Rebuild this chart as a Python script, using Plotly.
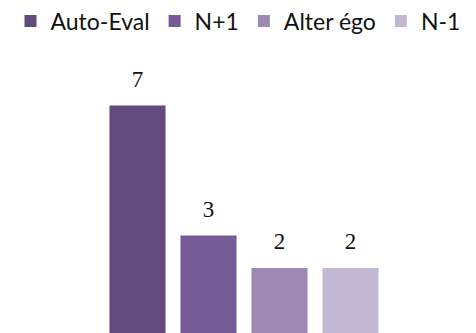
import plotly.graph_objects as go

# Evaluation sources and the score given by each
series = ["Auto-Eval", "N+1", "Alter égo", "N-1"]
scores = [7, 3, 2, 2]
colors = ["#614B7C", "#765C97", "#9D89B3", "#C3B8D3"]
category = [""]

W, H = 476, 333
# horizontal span (px) occupied by the group of bars
group_left, group_right = 102, 386
unit = group_right - group_left
x_range = [-0.5 - group_left / unit, 0.5 + (W - group_right) / unit]

fig = go.Figure()

# One bar per evaluation source, grouped in a single category
for name, val, col in zip(series, scores, colors):
    fig.add_trace(go.Bar(
        x=category, y=[val], name=name,
        marker=dict(color=col, line=dict(width=0)),
        hoverinfo="skip",
    ))

# Value labels sitting above each bar (invisible marker sets the gap)
for name, val in zip(series, scores):
    fig.add_trace(go.Scatter(
        x=category, y=[val], mode="markers+text",
        text=[str(val)], textposition="top center",
        textfont=dict(family="Liberation Serif", size=23, color="#111111"),
        marker=dict(size=19, opacity=0),
        showlegend=False, hoverinfo="skip", cliponaxis=False,
    ))

fig.update_layout(
    width=W, height=H,
    margin=dict(l=0, r=0, t=60, b=0),
    paper_bgcolor="white", plot_bgcolor="white",
    barmode="group", bargap=0, bargroupgap=0.21,
    scattermode="group", scattergap=0,
    showlegend=True,
    legend=dict(
        orientation="h", xref="paper", yref="container",
        x=0.5, xanchor="center", y=1 - 21 / H, yanchor="middle",
        font=dict(family="Lato", size=23, color="#111111"),
        bgcolor="rgba(0,0,0,0)",
    ),
    xaxis=dict(visible=False, range=x_range),
    yaxis=dict(visible=False, range=[0, 8.4]),
)

fig.write_html("out.html")
